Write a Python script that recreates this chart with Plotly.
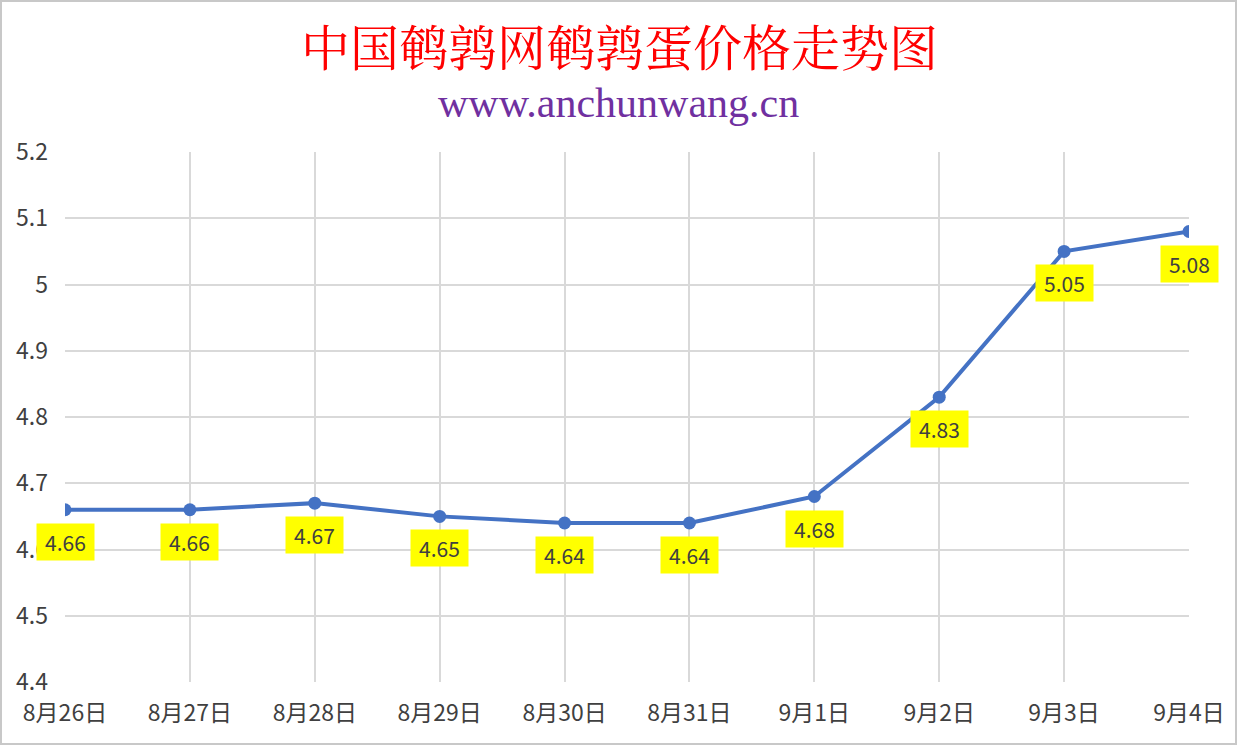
import plotly.graph_objects as go

dates = ['8月26日', '8月27日', '8月28日', '8月29日', '8月30日',
         '8月31日', '9月1日', '9月2日', '9月3日', '9月4日']
prices = [4.66, 4.66, 4.67, 4.65, 4.64, 4.64, 4.68, 4.83, 5.05, 5.08]
y_ticks = [4.4, 4.5, 4.6, 4.7, 4.8, 4.9, 5.0, 5.1, 5.2]
y_tick_text = ['4.4', '4.5', '4.6', '4.7', '4.8', '4.9', '5', '5.1', '5.2']

W, H = 1237, 745
L, R, T, B = 65, 48, 152, 63
pw = W - L - R
ph = H - T - B

fig = go.Figure()

fig.add_trace(
    go.Scatter(
        x=dates,
        y=prices,
        mode='lines+markers',
        line=dict(color='#4472C4', width=4),
        marker=dict(color='#4472C4', size=13),
        showlegend=False,
        hoverinfo='x+y',
    )
)

# yellow data labels under each point
for d, p in zip(dates, prices):
    fig.add_annotation(
        x=d, y=p,
        text=f'{p:.2f}',
        showarrow=False,
        yshift=-32,
        width=49, height=28,
        bgcolor='#FFFF00',
        borderpad=4,
        font=dict(family='Noto Sans CJK SC', size=21, color='#404040'),
    )

fig.update_xaxes(
    type='category',
    range=[0, len(dates) - 1],
    showgrid=True,
    gridcolor='#D9D9D9',
    gridwidth=1.5,
    showline=False,
    zeroline=False,
    ticks='',
    tickfont=dict(family='Noto Sans CJK SC', size=23, color='#404040'),
    ticklabelstandoff=15,
)
fig.update_yaxes(
    range=[4.4, 5.2],
    tickvals=y_ticks,
    ticktext=y_tick_text,
    showgrid=True,
    gridcolor='#D9D9D9',
    gridwidth=1.5,
    zeroline=False,
    showline=False,
    ticks='',
    tickfont=dict(family='Noto Sans CJK SC', size=23, color='#404040'),
    ticklabelstandoff=16,
)

# thin grey frame around the whole picture
fig.add_shape(
    type='rect', xref='paper', yref='paper',
    x0=-(L - 1) / pw, x1=(W - L - 1) / pw,
    y0=-(B - 1) / ph, y1=(H - B - 1) / ph,
    line=dict(color='#C8C8C8', width=2),
    layer='above',
)

fig.add_annotation(
    text='中国鹌鹑网鹌鹑蛋价格走势图',
    xref='paper', yref='paper', x=(619 - L) / pw, y=(H - B - 45) / ph,
    showarrow=False, yanchor='middle',
    font=dict(family='Noto Serif CJK SC, Noto Sans CJK SC', size=49, color='#FF0000'),
)
fig.add_annotation(
    text='www.anchunwang.cn',
    xref='paper', yref='paper', x=(618 - L) / pw, y=(H - B - 103) / ph,
    showarrow=False, yanchor='middle',
    font=dict(family='Liberation Serif', size=42, color='#7030A0'),
)

fig.update_layout(
    width=W,
    height=H,
    margin=dict(l=L, r=R, t=T, b=B),
    plot_bgcolor='white',
    paper_bgcolor='white',
)

fig.write_html('out.html', config={'displayModeBar': False},
               post_script="document.body.style.margin='0';")
